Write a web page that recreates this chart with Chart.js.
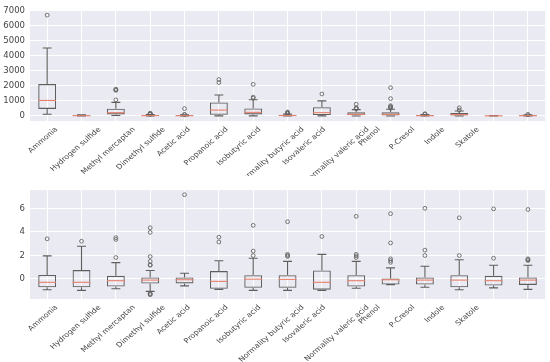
<!DOCTYPE html>
<html>
<head>
<meta charset="utf-8">
<script src="https://cdn.jsdelivr.net/npm/chart.js@4.4.1/dist/chart.umd.min.js"></script>
<style>
  html, body { margin: 0; padding: 0; background: #fff; }
  canvas { display: block; position: absolute; left: 0; }
  #top { top: 0; }
  #bottom { top: 180px; }
</style>
</head>
<body>
<canvas id="top" width="550" height="176"></canvas>
<canvas id="bottom" width="550" height="182"></canvas>
<script>
// tick labels under each panel
const compounds = ['Ammonia', 'Hydrogen sulfide', 'Methyl mercaptan', 'Dimethyl sulfide', 'Acetic acid',
    'Propanoic acid', 'Isobutyric acid', 'Normality butyric acid', 'Isovaleric acid',
    'Normality valeric acid', 'Phenol', 'P-Cresol', 'Indole', 'Skatole'];

// top panel: raw concentrations, one entry per box
const rawLo  = [110, 0, 30, 0, 0, 5, 5, 0, 5, 0, 0, 0, 0, 0, 0];
const rawQ1  = [470, 8, 100, 10, 5, 80, 100, 10, 60, 40, 25, 5, 30, 2, 5];
const rawMed = [1030, 20, 220, 25, 18, 390, 240, 30, 220, 110, 100, 20, 90, 8, 20];
const rawQ3  = [2120, 40, 480, 45, 40, 900, 500, 60, 580, 240, 240, 50, 190, 15, 40];
const rawHi  = [4520, 70, 900, 90, 75, 1390, 1080, 120, 1000, 420, 450, 100, 330, 30, 70];
const rawOut = [[6700], [], [1070, 1700, 1740, 1780], [100, 120, 140, 160, 180], [85, 100, 490],
    [2220, 2420], [1180, 1250, 2100], [150, 180, 220, 260], [1460], [480, 510, 540, 780],
    [520, 580, 620, 680, 1150, 1880], [120, 150], [390, 540], [], [85, 95]];
const rawTicks = [0, 1000, 2000, 3000, 4000, 5000, 6000, 7000];

// bottom panel: standardised values
const stdLo  = [-0.93, -0.99, -0.85, -1.07, -0.60, -0.90, -0.99, -0.99, -0.99, -0.80, -0.50, -0.72, -0.93, -0.77, -0.90];
const stdQ1  = [-0.72, -0.72, -0.66, -0.40, -0.39, -0.85, -0.77, -0.77, -0.93, -0.66, -0.49, -0.49, -0.72, -0.58, -0.52];
const stdMed = [-0.30, -0.30, -0.16, -0.11, -0.08, -0.22, -0.03, -0.05, -0.30, -0.16, -0.08, -0.11, -0.11, -0.16, -0.11];
const stdQ3  = [0.33, 0.74, 0.25, 0.11, 0.11, 0.66, 0.30, 0.30, 0.71, 0.30, 0.03, 0.11, 0.30, 0.25, 0.11];
const stdHi  = [1.95, 2.77, 1.38, 0.71, 0.47, 1.54, 1.75, 1.48, 2.08, 1.48, 0.93, 1.07, 1.62, 1.15, 1.15];
const stdOut = [[3.4], [3.2], [1.81, 3.35, 3.5], [1.15, 1.2, 1.48, 1.89, 3.95, 4.34, -1.25, -1.3, -1.36], [7.16],
    [3.13, 3.54], [1.98, 2.36, 4.55], [1.9, 1.98, 2.08, 4.86], [3.6], [1.81, 1.95, 2.08, 5.32],
    [1.4, 1.55, 1.7, 3.05, 5.54], [1.98, 2.44, 6.0], [1.98, 5.19], [1.75, 5.95], [1.55, 1.62, 1.7, 5.9]];
const stdTicks = [0, 2, 4, 6];

const BOX = '#5e5e5e';
const MED = '#e8806c';
const TXT = '#444';

// name labels sit on their own spacing (first one 0.4 slot in, 15.78 slots across the panel)
const LABEL_START = 0.4;
const LABEL_SPAN = 15.78;
const LABEL_SQUASH = 0.87;  // the source figure was shrunk a bit vertically

Chart.defaults.font.family = '"DejaVu Sans", sans-serif';
Chart.defaults.font.size = 8.5;
Chart.defaults.color = TXT;

function makeBoxChart(id, s, yMin, yMax, ticks, xHeight) {
    const slots = s.q1.map((_, i) => String(i));
    const points = [];
    s.out.forEach((vals, i) => vals.forEach(v => points.push({ x: String(i), y: v })));

    const panelBg = {
        id: 'panelBg',
        beforeDraw(chart) {
            const a = chart.chartArea, ctx = chart.ctx;
            ctx.save();
            ctx.fillStyle = '#eaeaf2';
            ctx.fillRect(a.left, a.top, a.right - a.left, a.bottom - a.top);
            ctx.restore();
        }
    };

    const whiskers = {
        id: 'whiskers',
        afterDatasetsDraw(chart) {
            const ctx = chart.ctx, x = chart.scales.x, y = chart.scales.y;
            const bars = chart.getDatasetMeta(0).data;
            ctx.save();
            ctx.lineWidth = 1.1;
            s.q1.forEach((q1, i) => {
                const cx = x.getPixelForValue(i);
                const half = bars[i].width / 2;
                const cap = half / 2;
                const yl = y.getPixelForValue(s.lo[i]), yh = y.getPixelForValue(s.hi[i]);
                const y1 = y.getPixelForValue(q1), y3 = y.getPixelForValue(s.q3[i]);
                ctx.strokeStyle = BOX;
                ctx.beginPath();
                ctx.moveTo(cx, yl); ctx.lineTo(cx, y1);
                ctx.moveTo(cx, y3); ctx.lineTo(cx, yh);
                ctx.moveTo(cx - cap, yl); ctx.lineTo(cx + cap, yl);
                ctx.moveTo(cx - cap, yh); ctx.lineTo(cx + cap, yh);
                ctx.stroke();
                const ym = y.getPixelForValue(s.med[i]);
                ctx.strokeStyle = MED;
                ctx.beginPath();
                ctx.moveTo(cx - half, ym); ctx.lineTo(cx + half, ym);
                ctx.stroke();
            });
            ctx.restore();
        }
    };

    // category names, centred under a rotated box like matplotlib
    const nameLabels = {
        id: 'nameLabels',
        afterDraw(chart) {
            const ctx = chart.ctx, a = chart.chartArea;
            const slot = (a.right - a.left) / LABEL_SPAN;
            const h = 8;
            ctx.save();
            ctx.font = '8px "DejaVu Sans", sans-serif';
            ctx.fillStyle = TXT;
            ctx.textAlign = 'center';
            ctx.textBaseline = 'middle';
            compounds.forEach((name, i) => {
                const w = ctx.measureText(name).width;
                const half = (w + h) * Math.SQRT1_2 / 2;
                ctx.save();
                ctx.translate(a.left + (i + LABEL_START) * slot, a.bottom + 5 + half * LABEL_SQUASH);
                ctx.scale(1, LABEL_SQUASH);
                ctx.rotate(-Math.PI / 4);
                ctx.fillText(name, 0, 0);
                ctx.restore();
            });
            ctx.restore();
        }
    };

    return new Chart(document.getElementById(id), {
        type: 'bar',
        data: {
            labels: slots,
            datasets: [
                {
                    type: 'bar',
                    data: s.q1.map((q, i) => [q, s.q3[i]]),
                    backgroundColor: 'rgba(0,0,0,0)',
                    borderColor: BOX,
                    borderWidth: 1.1,
                    borderSkipped: false,
                    barPercentage: 0.52,
                    categoryPercentage: 1
                },
                {
                    type: 'scatter',
                    data: points,
                    pointStyle: 'circle',
                    pointRadius: 1.9,
                    borderWidth: 0.9,
                    borderColor: '#666',
                    backgroundColor: 'rgba(0,0,0,0)'
                }
            ]
        },
        options: {
            responsive: false,
            animation: false,
            layout: { padding: { top: 7, right: 4, left: 0, bottom: 0 } },
            plugins: { legend: { display: false }, tooltip: { enabled: false } },
            scales: {
                x: {
                    type: 'category',
                    offset: true,
                    grid: { color: '#ffffff', lineWidth: 1, offset: false, drawTicks: false },
                    border: { display: false },
                    ticks: { display: false },
                    afterFit: sc => { sc.height = xHeight; }
                },
                y: {
                    min: yMin,
                    max: yMax,
                    grid: { color: '#ffffff', lineWidth: 1, drawTicks: false },
                    border: { display: false },
                    ticks: { padding: 5, callback: v => String(v) },
                    afterBuildTicks: sc => { sc.ticks = ticks.map(v => ({ value: v })); },
                    afterFit: sc => { sc.width = 30; }
                }
            }
        },
        plugins: [panelBg, whiskers, nameLabels]
    });
}

makeBoxChart('top', { lo: rawLo, q1: rawQ1, med: rawMed, q3: rawQ3, hi: rawHi, out: rawOut },
    -335, 7035, rawTicks, 55);
makeBoxChart('bottom', { lo: stdLo, q1: stdQ1, med: stdMed, q3: stdQ3, hi: stdHi, out: stdOut },
    -1.72, 7.55, stdTicks, 63);
</script>
</body>
</html>
